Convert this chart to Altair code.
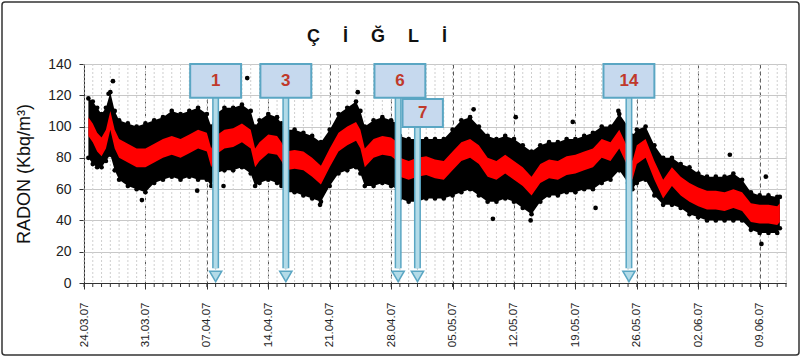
import altair as alt
import pandas as pd

START = pd.Timestamp("2007-03-24")

# ---- data (day offset from 24.03.2007) ----
days = [0.5, 1, 1.5, 2, 2.5, 3, 3.5, 4, 5, 6, 7, 8, 9, 10, 11, 12, 13, 14, 14.5, 15,
        16, 17, 18, 19, 19.5, 20, 21, 22, 22.5, 23, 24, 25, 26, 27, 28, 29, 30, 31, 31.5, 32,
        33, 34, 35, 35.7, 36, 37, 38, 39, 40, 41, 42, 43, 44, 45, 46, 47, 48, 49, 50, 51,
        52, 53, 54, 55, 56, 57, 58, 59, 60, 61, 62, 62.5, 63, 64, 65, 66, 67, 68, 69, 70,
        71, 72, 73, 74, 75, 76, 77, 78, 79, 79.3]
red_level = [100, 96, 90, 87, 92, 104, 92, 86, 83, 80, 80, 83, 86, 88, 86, 89, 92, 90, 80, 88,
             92, 93, 96, 92, 80, 84, 89, 88, 84, 78, 79, 78, 74, 69, 80, 90, 94, 97, 92, 80,
             86, 88, 87, 84, 74, 72, 74, 75, 73, 72, 78, 84, 86, 82, 74, 72, 76, 72, 68, 62,
             70, 73, 72, 75, 76, 78, 80, 86, 84, 92, 80, 72, 82, 86, 72, 60, 68, 62, 58, 55,
             53, 53, 52, 54, 52, 45, 44, 44, 43, 45]
cloud_high = [118, 116, 112, 108, 112, 122, 110, 104, 102, 100, 102, 104, 106, 110, 108, 110, 112, 108, 100, 108,
              112, 112, 114, 110, 100, 104, 108, 106, 102, 98, 98, 96, 94, 90, 98, 108, 112, 116, 110, 100,
              104, 106, 104, 102, 94, 92, 92, 92, 92, 92, 98, 104, 106, 100, 94, 92, 94, 92, 88, 84,
              88, 90, 90, 92, 92, 94, 96, 100, 100, 108, 100, 94, 98, 100, 88, 80, 80, 76, 74, 70,
              68, 68, 68, 70, 66, 58, 56, 56, 55, 55]
cloud_low = [80, 76, 74, 74, 78, 82, 72, 66, 62, 60, 58, 64, 66, 68, 66, 68, 66, 66, 62, 70,
             72, 72, 74, 70, 62, 64, 66, 64, 62, 58, 58, 56, 54, 52, 62, 70, 72, 74, 70, 62,
             62, 64, 62, 60, 54, 52, 52, 54, 54, 54, 56, 58, 60, 56, 52, 52, 54, 52, 48, 44,
             52, 56, 56, 58, 58, 60, 60, 64, 66, 72, 64, 60, 64, 66, 56, 50, 50, 48, 44, 42,
             40, 40, 40, 40, 40, 34, 32, 32, 32, 35]

outlier_days = [3.3, 18.6, 6.6, 12.9, 15.9, 31.2, 26.9, 37.9, 44.4, 49.2, 55.7, 46.6, 50.9, 58.3, 73.6, 77.7, 77.2, 60.9, 2.8]
outlier_vals = [129, 131, 53, 59, 62, 122, 50, 46, 111, 106, 103, 41, 40, 48, 82, 68, 25, 110, 121]

callout_labels = ["1", "3", "6", "7", "14"]
arrow_days = [15.0, 23.0, 35.8, 38.0, 62.1]
box_center_days = [15.0, 23.0, 36.0, 38.6, 62.1]
box_half_days = [2.9, 2.9, 2.9, 2.3, 2.9]
box_top = [140, 140, 140, 117.6, 140]
box_bottom = [118.5, 118.5, 118.5, 99.7, 118.5]

week_offsets = list(range(0, 78, 7))
TITLE = "Ç\u2003 İ\u2003 Ğ\u2003 L\u2003 İ"
YTITLE = "RADON (Kbq/m³)"
FONT = "Liberation Sans"
RED_HALF = 6


def ts(d):
    return START + pd.to_timedelta(d, unit="D")


series = pd.DataFrame({"t": [ts(d) for d in days], "red": red_level,
                       "hi": cloud_high, "lo": cloud_low})
series["red_lo"] = series["red"] - RED_HALF
series["red_hi"] = series["red"] + RED_HALF
outliers = pd.DataFrame({"t": [ts(d) for d in outlier_days], "v": outlier_vals})
call = pd.DataFrame({
    "label": callout_labels,
    "arrow": [ts(d) for d in arrow_days],
    "bc": [ts(d) for d in box_center_days],
    "bl": [ts(c - h) for c, h in zip(box_center_days, box_half_days)],
    "br": [ts(c + h) for c, h in zip(box_center_days, box_half_days)],
    "top": box_top,
    "bottom": box_bottom,
})
call["mid"] = (call["top"] + call["bottom"]) / 2
call["shaft_end"] = 9.5
call["head"] = 4.2
daily = pd.DataFrame({"t": [ts(d) for d in range(0, 81)]})
one_row = pd.DataFrame({"title": [TITLE]})

xscale = alt.Scale(domain=[alt.DateTime(year=2007, month=3, date=24),
                           alt.DateTime(year=2007, month=6, date=12)], nice=False)
xaxis = alt.Axis(values=[alt.DateTime(year=ts(w).year, month=ts(w).month, date=ts(w).day) for w in week_offsets],
                 format="%d.%m.%y", labelAngle=270, labelFontSize=11.5, labelFont=FONT,
                 labelColor="#222", labelPadding=13, tickSize=6, tickColor="#333",
                 domainColor="#333", grid=True, gridColor="#555", gridDash=[4, 3],
                 gridWidth=1, labelAlign="right", labelBaseline="middle")
yscale = alt.Scale(domain=[0, 140], nice=False)
yaxis = alt.Axis(values=list(range(0, 141, 20)), labelFontSize=14, labelFont=FONT,
                 labelColor="#222", labelPadding=8, tickSize=5, tickColor="#333",
                 domainColor="#333", grid=True, gridColor="#c8c8c8",
                 titleFont=FONT, titleFontSize=18, titleFontWeight="normal",
                 titleColor="#111", titlePadding=14)


def X(f):
    return alt.X(f, type="temporal", scale=xscale, axis=xaxis, title=None)


def Y(f):
    return alt.Y(f, type="quantitative", scale=yscale, axis=yaxis, title=YTITLE)


grid_daily = alt.Chart(daily).mark_rule(color="#cfcfcf", strokeDash=[2, 2], strokeWidth=1).encode(x=X("t"))
ticks_daily = alt.Chart(daily).mark_rule(color="#333", strokeWidth=1).encode(
    x=X("t"), y=alt.value(219), y2=alt.value(223))

cloud = alt.Chart(series).mark_area(color="black", opacity=1).encode(x=X("t"), y=Y("lo"), y2="hi")
edge_hi = alt.Chart(series).mark_circle(color="black", size=22, opacity=1).encode(x=X("t"), y=Y("hi"))
edge_lo = alt.Chart(series).mark_circle(color="black", size=22, opacity=1).encode(x=X("t"), y=Y("lo"))
out_pts = alt.Chart(outliers).mark_circle(color="black", size=22, opacity=1).encode(x=X("t"), y=Y("v"))
red = alt.Chart(series).mark_area(color="#ff0000", opacity=1).encode(x=X("t"), y=Y("red_lo"), y2="red_hi")

shaft_out = alt.Chart(call).mark_rule(color="#5aa6c3", strokeWidth=7, strokeCap="butt").encode(
    x=X("arrow"), y=Y("bottom"), y2="shaft_end")
shaft_in = alt.Chart(call).mark_rule(color="#b3dbe8", strokeWidth=4, strokeCap="butt").encode(
    x=X("arrow"), y=Y("bottom"), y2="shaft_end")
head = alt.Chart(call).mark_point(shape="triangle-down", filled=True, fill="#b3dbe8",
                                  stroke="#5aa6c3", strokeWidth=1.5, size=150, opacity=1).encode(
    x=X("arrow"), y=Y("head"))
boxes = alt.Chart(call).mark_rect(fill="#c6d9ee", stroke="#5aa6c3", strokeWidth=2).encode(
    x=X("bl"), x2="br", y=Y("top"), y2="bottom")
labels = alt.Chart(call).mark_text(font=FONT, fontSize=17, fontWeight="bold", color="#c0392b",
                                   baseline="middle", align="center").encode(
    x=X("bc"), y=Y("mid"), text="label:N")

frame = alt.Chart(one_row).mark_rect(fill=None, stroke="#333", strokeWidth=1.5, cornerRadius=3).encode(
    x=alt.value(-82), x2=alt.value(715), y=alt.value(-62), y2=alt.value(291))
title = alt.Chart(one_row).mark_text(font=FONT, fontSize=18, fontWeight="bold", color="#111",
                                     align="center", baseline="middle").encode(
    x=alt.value(293), y=alt.value(-27), text="title:N")

chart = alt.layer(
    grid_daily, cloud, edge_hi, edge_lo, out_pts, red,
    shaft_out, shaft_in, head, boxes, labels, ticks_daily, frame, title
).properties(
    width=702, height=219,
    autosize=alt.AutoSizeParams(type="none"),
    padding={"left": 84, "top": 64, "right": 16, "bottom": 75},
).configure_view(stroke="#bbbbbb", strokeWidth=1).configure(background="white")

chart.save("out.html", embed_options={"renderer": "svg", "actions": False})
